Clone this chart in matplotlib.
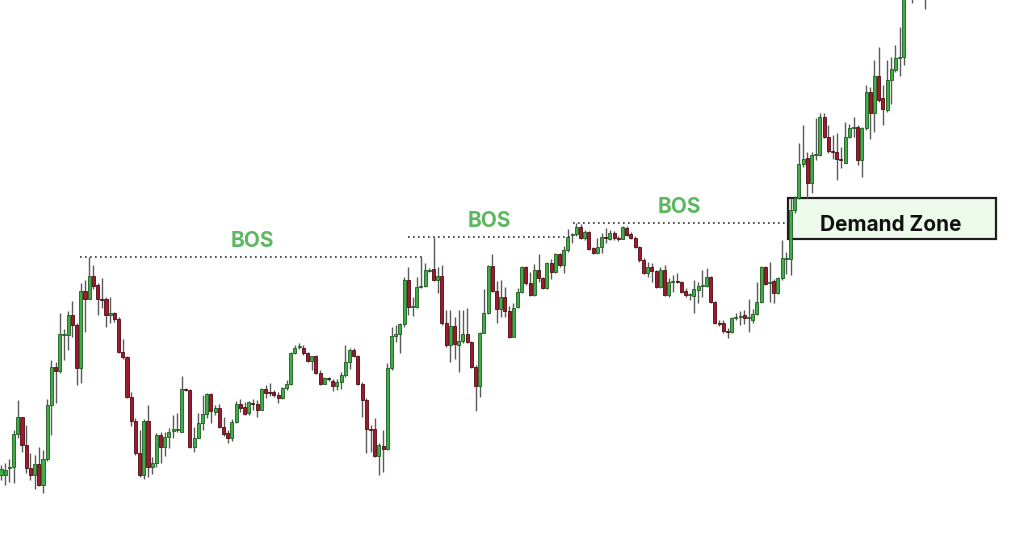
import matplotlib

matplotlib.use("Agg")

import matplotlib.pyplot as plt
import numpy as np
from matplotlib.patches import Rectangle

# OHLC per candle (price units), left to right
opens = [
    59, 59, 66, 67, 100, 117, 89, 66, 59, 70,
    49, 75, 129, 167, 163, 199, 199, 219, 209, 166,
    243, 235, 258, 249, 235, 235, 219, 221, 215, 182,
    177, 137, 113, 81, 59, 113, 67, 71, 99, 87,
    97, 103, 104, 102, 145, 144, 87, 96, 111, 120,
    140, 122, 126, 107, 101, 96, 112, 130, 127, 121,
    131, 130, 124, 145, 142, 142, 139, 136, 146, 150,
    181, 187, 186, 181, 173, 178, 161, 150, 156, 153,
    148, 152, 159, 172, 184, 178, 150, 134, 105, 105,
    78, 88, 85, 166, 198, 200, 210, 254, 227, 227,
    247, 248, 263, 265, 254, 258, 211, 189, 208, 189,
    193, 200, 192, 167, 148, 201, 221, 268, 243, 225,
    237, 223, 197, 227, 242, 267, 251, 239, 264, 256,
    246, 271, 262, 280, 269, 284, 299, 300, 307, 296,
    302, 286, 281, 287, 297, 295, 301, 296, 295, 306,
    300, 296, 287, 274, 261, 267, 263, 247, 264, 239,
    252, 253, 252, 243, 239, 238, 244, 248, 248, 257,
    232, 211, 211, 203, 202, 216, 217, 219, 216, 214,
    220, 232, 267, 251, 253, 241, 256, 275, 275, 324,
    336, 370, 376, 351, 379, 379, 417, 397, 383, 382,
    375, 371, 397, 406, 407, 374, 406, 442, 421, 458,
    436, 424, 454, 464, 476, 477, 560, 565, 575, 572, 580,
]
closes = [
    65, 64, 67, 100, 117, 89, 66, 59, 70, 49,
    75, 129, 167, 163, 200, 200, 219, 209, 166, 243,
    235, 258, 248, 235, 234, 219, 221, 215, 182, 177,
    137, 113, 81, 59, 113, 67, 71, 99, 87, 97,
    102, 105, 105, 145, 144, 87, 96, 111, 120, 140,
    123, 126, 107, 100, 96, 112, 130, 126, 120, 132,
    130, 124, 145, 141, 141, 139, 136, 146, 150, 181,
    186, 188, 181, 173, 178, 161, 150, 156, 155, 148,
    152, 159, 172, 184, 178, 150, 134, 105, 104, 78,
    89, 85, 166, 198, 200, 210, 254, 227, 228, 247,
    248, 264, 264, 254, 258, 211, 189, 208, 190, 193,
    200, 192, 167, 148, 201, 221, 268, 243, 225, 237,
    223, 197, 226, 242, 267, 251, 239, 264, 256, 246,
    271, 262, 280, 269, 284, 297, 300, 307, 296, 302,
    285, 281, 287, 297, 296, 301, 296, 295, 307, 299,
    296, 287, 274, 261, 267, 263, 247, 264, 239, 252,
    253, 252, 242, 239, 240, 245, 248, 249, 257, 232,
    211, 210, 203, 202, 216, 217, 218, 216, 217, 220,
    232, 267, 250, 252, 241, 256, 276, 276, 324, 336,
    370, 375, 351, 379, 380, 417, 397, 383, 382, 375,
    374, 397, 406, 407, 374, 406, 442, 421, 458, 434,
    425, 454, 465, 476, 477, 560, 565, 575, 570, 585, 590,
]
highs = [
    69, 71, 75, 104, 134, 117, 109, 81, 79, 87,
    84, 135, 174, 172, 221, 205, 223, 233, 211, 251,
    254, 277, 269, 251, 256, 237, 237, 222, 217, 195,
    178, 142, 116, 104, 115, 129, 77, 101, 102, 102,
    106, 119, 121, 158, 146, 145, 107, 121, 139, 141,
    141, 129, 130, 117, 104, 115, 133, 135, 132, 133,
    135, 134, 146, 149, 151, 144, 142, 147, 154, 182,
    189, 191, 189, 182, 178, 179, 164, 157, 157, 155,
    155, 162, 189, 186, 186, 179, 152, 136, 109, 116,
    91, 104, 171, 207, 209, 211, 257, 267, 237, 257,
    277, 271, 266, 297, 267, 269, 224, 224, 217, 224,
    224, 226, 193, 169, 202, 245, 269, 280, 253, 254,
    247, 228, 231, 246, 268, 268, 262, 270, 280, 257,
    272, 275, 281, 281, 288, 305, 301, 311, 310, 304,
    303, 287, 296, 301, 306, 304, 303, 298, 308, 308,
    302, 298, 288, 276, 272, 271, 264, 267, 269, 256,
    259, 261, 253, 246, 241, 254, 252, 264, 266, 258,
    233, 214, 214, 206, 217, 221, 223, 224, 235, 225,
    252, 268, 268, 272, 255, 257, 294, 282, 336, 338,
    391, 409, 382, 382, 416, 421, 421, 409, 399, 401,
    387, 412, 410, 417, 409, 407, 449, 447, 474, 487,
    449, 474, 477, 489, 507, 575, 585, 590, 595, 600, 605,
]
lows = [
    54, 49, 52, 51, 96, 82, 61, 54, 45, 48,
    41, 73, 99, 131, 161, 174, 184, 197, 149, 151,
    202, 235, 245, 219, 226, 207, 211, 212, 181, 175,
    136, 108, 79, 57, 55, 57, 60, 67, 71, 78,
    86, 96, 102, 102, 143, 86, 82, 96, 104, 116,
    111, 119, 106, 98, 91, 93, 111, 122, 119, 119,
    124, 117, 124, 136, 138, 137, 131, 135, 144, 149,
    180, 185, 179, 172, 164, 160, 149, 150, 153, 143,
    144, 145, 157, 165, 177, 149, 117, 81, 82, 77,
    59, 62, 84, 164, 192, 181, 207, 219, 218, 226,
    246, 247, 262, 253, 241, 209, 187, 172, 175, 162,
    191, 191, 166, 123, 137, 201, 220, 242, 211, 217,
    217, 196, 197, 226, 241, 249, 238, 238, 252, 245,
    245, 255, 261, 267, 261, 282, 291, 298, 295, 294,
    284, 280, 280, 281, 291, 294, 294, 293, 295, 298,
    295, 286, 272, 260, 257, 252, 246, 246, 238, 237,
    242, 251, 241, 237, 234, 221, 231, 237, 247, 231,
    210, 208, 201, 196, 201, 214, 209, 210, 202, 211,
    219, 231, 249, 232, 231, 240, 254, 260, 259, 321,
    335, 367, 336, 341, 374, 378, 396, 381, 375, 354,
    366, 371, 396, 397, 369, 357, 404, 395, 402, 432,
    409, 422, 430, 462, 458, 469, 545, 531, 550, 555, 525,
]

# break-of-structure lines: swing candle (1-based), line start / end (candle position)
bos_swing = [22, 104, 138]
bos_start = [19.8, 97.9, 137.2]
bos_end = [102.0, 136.5, 187.7]

zone_left, zone_right = 188.4, 238.0
zone_low, zone_high = 295, 336

GREEN = "#3fae44"
GREEN_EDGE = "#1d5a22"
RED = "#a3192c"
RED_EDGE = "#4a0d14"
DOJI = "#333333"

fig = plt.figure(figsize=(10.24, 5.34), dpi=100)
ax = fig.add_axes([0, 0, 1, 1])
ax.set_xlim(0.76, 244.6)
ax.set_ylim(0, 534)
ax.axis("off")

o = np.array(opens, dtype=float)
c = np.array(closes, dtype=float)
h = np.array(highs, dtype=float)
l = np.array(lows, dtype=float)
x = np.arange(1, len(o) + 1)

# demand zone box under the candles
ax.add_patch(
    Rectangle(
        (zone_left, zone_low),
        zone_right - zone_left,
        zone_high - zone_low,
        facecolor="#eefaec",
        edgecolor="#1e1e1e",
        linewidth=1.6,
        zorder=1,
    )
)
ax.text(
    (zone_left + zone_right) / 2 - 0.3,
    zone_low + (zone_high - zone_low) * 0.34,
    "Demand Zone",
    ha="center",
    va="center",
    fontsize=15,
    fontweight="bold",
    family=["Inter", "DejaVu Sans"],
    color="#111111",
    zorder=5,
)

ax.vlines(x, l, h, color="#5a5a5a", linewidth=1.0, zorder=2)

up = c > o
down = c < o
flat = ~(up | down)
body_lo = np.minimum(o, c)
body_h = np.maximum(np.abs(c - o), 1.3)
ax.bar(x[up], body_h[up], bottom=body_lo[up], width=0.72,
       color=GREEN, edgecolor=GREEN_EDGE, linewidth=0.6, zorder=3)
ax.bar(x[down], body_h[down], bottom=body_lo[down], width=0.72,
       color=RED, edgecolor=RED_EDGE, linewidth=0.6, zorder=3)
ax.bar(x[flat], body_h[flat], bottom=body_lo[flat] - 0.6, width=0.72,
       color=DOJI, edgecolor=DOJI, linewidth=0.6, zorder=3)

for swing, x0, x1 in zip(bos_swing, bos_start, bos_end):
    level = highs[swing - 1]
    ax.plot([x0, x1], [level, level], color="#333333", linewidth=1.2,
            linestyle=(0, (1, 2)), zorder=4)
    ax.annotate(
        "BOS",
        ((x0 + x1) / 2, level),
        xytext=(0, 16),
        textcoords="offset pixels",
        ha="center",
        va="center",
        fontsize=15,
        fontweight="bold",
        family=["Inter", "DejaVu Sans"],
        color="#5cb85f",
        zorder=5,
    )

fig.savefig("out.png", dpi=100)
plt.close(fig)
